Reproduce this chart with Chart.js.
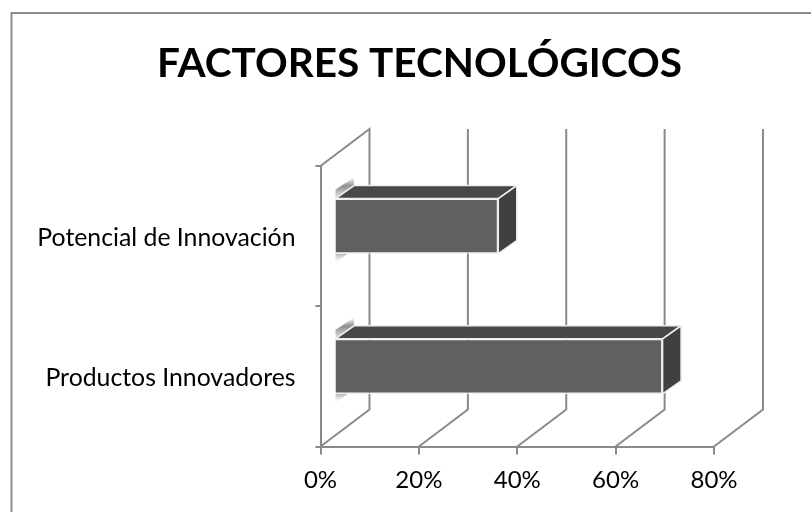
<!DOCTYPE html>
<html lang="es">
<head>
    <meta charset="UTF-8">
    <title>Factores Tecnológicos</title>
    <script src="https://cdn.jsdelivr.net/npm/chart.js"></script>
    <style>
        html, body { margin: 0; padding: 0; background: #fff; }
        canvas { display: block; }
    </style>
</head>
<body>
<canvas id="chart" width="811" height="512"></canvas>

<script>
    const categories = ['Potencial de Innovación', 'Productos Innovadores'];
    const values = [33.3, 66.7];
    const xTicks = [0, 20, 40, 60, 80];

    const lineColor = '#8a8a8a';
    const wallDepth = { x: 49, y: -37 };   // back wall offset
    const barShift = { x: 14, y: -10 };    // bars stand in front of the wall
    const barDepth = { x: 18.5, y: -13 };

    function poly(ctx, pts, fill, stroke) {
        ctx.beginPath();
        pts.forEach((p, i) => i ? ctx.lineTo(p[0], p[1]) : ctx.moveTo(p[0], p[1]));
        ctx.closePath();
        ctx.fillStyle = fill;
        ctx.fill();
        if (stroke) {
            ctx.strokeStyle = stroke;
            ctx.lineWidth = 1.5;
            ctx.stroke();
        }
    }

    // outer frame, only top and left are visible in the picture
    const framePlugin = {
        id: 'frame',
        afterLayout(chart) {
            // title is centred on the whole figure, not on the plot
            chart.titleBlock.left = 28;
            chart.titleBlock.right = chart.width;
        },
        beforeDraw(chart) {
            const ctx = chart.ctx;
            ctx.save();
            ctx.strokeStyle = '#8c8c8c';
            ctx.lineWidth = 2;
            ctx.beginPath();
            ctx.moveTo(11.5, chart.height);
            ctx.lineTo(11.5, 13);
            ctx.lineTo(chart.width, 13);
            ctx.stroke();
            ctx.restore();
        }
    };

    // floor and back wall lines, taken from the axis scales
    const wallPlugin = {
        id: 'walls',
        beforeDatasetsDraw(chart) {
            const ctx = chart.ctx;
            const { top, bottom } = chart.chartArea;
            const x = chart.scales.x;
            ctx.save();
            ctx.strokeStyle = lineColor;
            ctx.lineWidth = 2;
            xTicks.forEach(t => {
                const px = x.getPixelForValue(t);
                ctx.beginPath();
                ctx.moveTo(px, bottom);
                ctx.lineTo(px + wallDepth.x, bottom + wallDepth.y);
                ctx.lineTo(px + wallDepth.x, top + wallDepth.y);
                if (t === xTicks[0]) ctx.lineTo(px, top);
                ctx.stroke();
            });
            ctx.restore();
        }
    };

    // top and side faces of each bar, front face is the normal bar shifted
    const bar3dPlugin = {
        id: 'bar3d',
        beforeDatasetDraw(chart, args) {
            const ctx = chart.ctx;
            ctx.save();
            ctx.translate(barShift.x, barShift.y);
            args.meta.data.forEach(bar => {
                const h = bar.height / 2;
                const l = bar.base, r = bar.x, t = bar.y - h, b = bar.y + h;
                const dx = barDepth.x, dy = barDepth.y;

                let g = ctx.createLinearGradient(l, t + dy - 8, l, t);
                g.addColorStop(0, 'rgba(130,130,130,0)');
                g.addColorStop(0.4, 'rgba(130,130,130,0.9)');
                g.addColorStop(1, 'rgba(215,215,215,0.7)');
                poly(ctx, [[l, t], [l + dx, t + dy], [l + dx, t + dy - 8], [l, t - 9]], g);

                g = ctx.createLinearGradient(l, b, l, b + 9);
                g.addColorStop(0, 'rgba(160,160,160,0.8)');
                g.addColorStop(1, 'rgba(220,220,220,0)');
                poly(ctx, [[l, b], [l + 12, b], [l, b + 9]], g);

                poly(ctx, [[l, t], [l + dx, t + dy], [r + dx, t + dy], [r, t]], '#484848', '#f0f0f0');
                poly(ctx, [[r, t], [r + dx, t + dy], [r + dx, b + dy], [r, b]], '#404040', '#f0f0f0');
            });
        },
        afterDatasetDraw(chart) {
            chart.ctx.restore();
        }
    };

    new Chart(document.getElementById('chart').getContext('2d'), {
        type: 'bar',
        data: {
            labels: categories,
            datasets: [{
                data: values,
                backgroundColor: '#606060',
                borderColor: '#f0f0f0',
                borderWidth: 1.5,
                categoryPercentage: 1,
                barPercentage: 0.393,
                clip: false
            }]
        },
        plugins: [framePlugin, wallPlugin, bar3dPlugin],
        options: {
            indexAxis: 'y',
            responsive: false,
            animation: false,
            layout: { padding: { left: 0, right: 97, top: 0, bottom: 0 } },
            plugins: {
                legend: { display: false },
                tooltip: { enabled: false },
                title: {
                    display: true,
                    text: 'FACTORES TECNOLÓGICOS',
                    color: '#000',
                    font: { family: 'Lato', size: 40.5, weight: 'bold', lineHeight: 1.2 },
                    padding: { top: 40, bottom: 77.4 }
                }
            },
            scales: {
                x: {
                    min: 0,
                    max: 80,
                    afterFit(s) { s.height = 65.5; },
                    afterBuildTicks(s) { s.ticks = xTicks.map(v => ({ value: v })); },
                    grid: { drawOnChartArea: false, color: lineColor, lineWidth: 2, tickLength: 8 },
                    border: { color: lineColor, width: 2 },
                    ticks: {
                        color: '#000',
                        padding: 11,
                        maxRotation: 0,
                        font: { family: 'Lato', size: 24 },
                        callback: v => v + '%'
                    }
                },
                y: {
                    afterFit(s) { s.width = 320.5; },
                    grid: { drawOnChartArea: false, color: lineColor, lineWidth: 2, tickLength: 5 },
                    border: { color: lineColor, width: 2 },
                    ticks: {
                        color: '#000',
                        padding: 20,
                        labelOffset: 1.5,
                        font: { family: 'Lato', size: 24.8 }
                    }
                }
            }
        }
    });
</script>
</body>
</html>
